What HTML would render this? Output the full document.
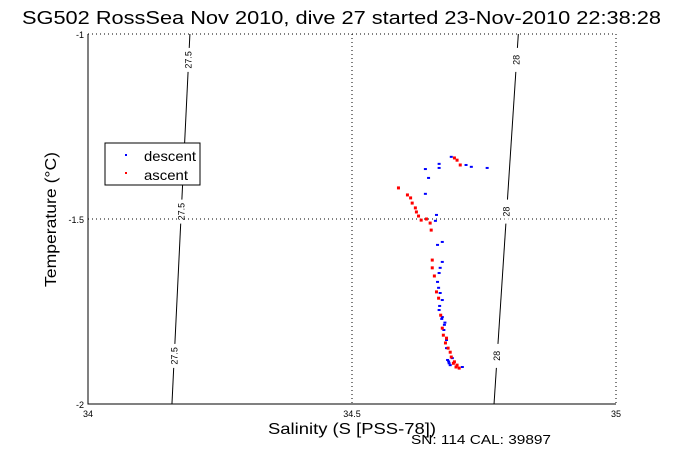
<!DOCTYPE html>
<html><head><meta charset="utf-8"><style>
body{margin:0;background:#fff;}
svg text{font-family:"Liberation Sans",sans-serif;}
</style></head><body>
<svg id="chart" width="681" height="454" xmlns="http://www.w3.org/2000/svg">
<text x="22" y="24" font-size="18" textLength="639" lengthAdjust="spacingAndGlyphs">SG502 RossSea Nov 2010, dive 27 started 23-Nov-2010 22:38:28</text>
<g id="grid"></g>
<g id="contours"></g>
<g id="points"></g>
<g id="axes"></g>
<text x="268" y="434" font-size="16" textLength="168" lengthAdjust="spacingAndGlyphs">Salinity (S [PSS-78])</text>
<text transform="translate(56,287) rotate(-90)" font-size="16" textLength="135" lengthAdjust="spacingAndGlyphs">Temperature (°C)</text>
<text x="411" y="444" font-size="13" textLength="140" lengthAdjust="spacingAndGlyphs">SN: 114  CAL: 39897</text>
<g>
<rect x="105" y="143" width="95" height="42" fill="#fff" stroke="#000"/>
<rect x="125" y="154" width="2" height="2" fill="#00f"/>
<text x="144" y="161" font-size="14" textLength="52" lengthAdjust="spacingAndGlyphs">descent</text>
<rect x="125" y="172" width="2" height="2" fill="#f00"/>
<text x="144" y="180" font-size="14" textLength="44" lengthAdjust="spacingAndGlyphs">ascent</text>
</g>
</svg>
<script>
const xTicks=[34,34.5,35];
const yTicks=[-1,-1.5,-2];
const xTickLabels=["34","34.5","35"];
const yTickLabels=["-1","-1.5","-2"];
const contourLevels=["27.5","28"];
const contourTopS=[34.193,34.815];
const contourBottomS=[34.159,34.769];
const descentS=[34.688,34.665,34.665,34.639,34.716,34.726,34.756,34.645,34.639,34.660,34.658,34.671,34.662,34.671,34.667,34.665,34.662,34.664,34.671,34.665,34.671,34.675,34.679,34.679,34.681,34.690,34.709,34.667,34.676,34.684,34.666,34.670,34.674,34.683,34.686];
const descentT=[-1.332,-1.351,-1.362,-1.365,-1.354,-1.359,-1.362,-1.389,-1.432,-1.489,-1.505,-1.562,-1.570,-1.616,-1.632,-1.646,-1.670,-1.686,-1.719,-1.746,-1.765,-1.786,-1.827,-1.849,-1.881,-1.876,-1.900,-1.700,-1.780,-1.890,-1.735,-1.770,-1.800,-1.885,-1.895];
const ascentS=[34.694,34.699,34.705,34.588,34.605,34.611,34.614,34.620,34.622,34.626,34.631,34.641,34.648,34.650,34.652,34.652,34.656,34.660,34.664,34.671,34.673,34.679,34.682,34.688,34.694,34.699,34.703,34.686,34.668,34.677,34.692,34.697];
const ascentT=[-1.335,-1.341,-1.354,-1.416,-1.435,-1.443,-1.457,-1.470,-1.481,-1.492,-1.503,-1.500,-1.511,-1.530,-1.611,-1.632,-1.654,-1.697,-1.714,-1.795,-1.814,-1.822,-1.849,-1.873,-1.886,-1.895,-1.903,-1.860,-1.760,-1.835,-1.890,-1.900];
const L=88,R=616,T=34,B=404,xmin=34,xmax=35,ymin=-2,ymax=-1;
const xs=v=>L+(v-xmin)/(xmax-xmin)*(R-L);
const ys=v=>B-(v-ymin)/(ymax-ymin)*(B-T);
const NS="http://www.w3.org/2000/svg";
function mk(tag,attrs,parent,txt){const e=document.createElementNS(NS,tag);for(const k in attrs)e.setAttribute(k,attrs[k]);if(txt!==undefined)e.textContent=txt;parent.appendChild(e);return e;}
const grid=document.getElementById('grid'),axes=document.getElementById('axes'),cont=document.getElementById('contours'),pts=document.getElementById('points');
xTicks.forEach((v,i)=>{
 if(i>0){const g=mk('line',{x1:xs(v),x2:xs(v),y1:T,y2:B,stroke:'#000','stroke-dasharray':'1,3','stroke-width':1},grid);
 
 }
 const t=mk('text',{x:xs(v),y:B+13,'font-size':9,'text-anchor':'middle'},axes,xTickLabels[i]);
 
 
});
yTicks.forEach((v,i)=>{
 if(i<2){const g=mk('line',{x1:L,x2:R,y1:ys(v),y2:ys(v),stroke:'#000','stroke-dasharray':'1,3','stroke-width':1},grid);
 
 }
 const t=mk('text',{x:L-4,y:ys(v)+4,'font-size':9,'text-anchor':'end'},axes,yTickLabels[i]);
 
 
});
const ax=mk('path',{d:`M${L},${T}V${B}H${R}`,fill:'none',stroke:'#000'},axes);


contourLevels.forEach((lab,i)=>{
 const x1=xs(contourTopS[i]),x2=xs(contourBottomS[i]);
 const ln=mk('line',{x1:x1,y1:T,x2:x2,y2:B,stroke:'#000'},cont);
 
 
 [0.07,0.48,0.87].forEach(f=>{
  const y=T+f*(B-T),x=x1+(x2-x1)*f;
  mk('rect',{x:x-2,y:y-12,width:4,height:24,fill:'#fff'},cont);
  const t=mk('text',{transform:`translate(${x+3},${y}) rotate(-90)`,'font-size':9,'text-anchor':'middle'},cont,lab);
  
  
 });
});
descentS.forEach((s,i)=>{
 const r=mk('rect',{x:xs(s)-1.5,y:ys(descentT[i])-1,width:3,height:2,fill:'#00f'},pts);
 
 
});
ascentS.forEach((s,i)=>{
 const r=mk('rect',{x:xs(s)-1.5,y:ys(ascentT[i])-1.5,width:3,height:3,fill:'#f00'},pts);
 
 
});
</script>
</body></html>
